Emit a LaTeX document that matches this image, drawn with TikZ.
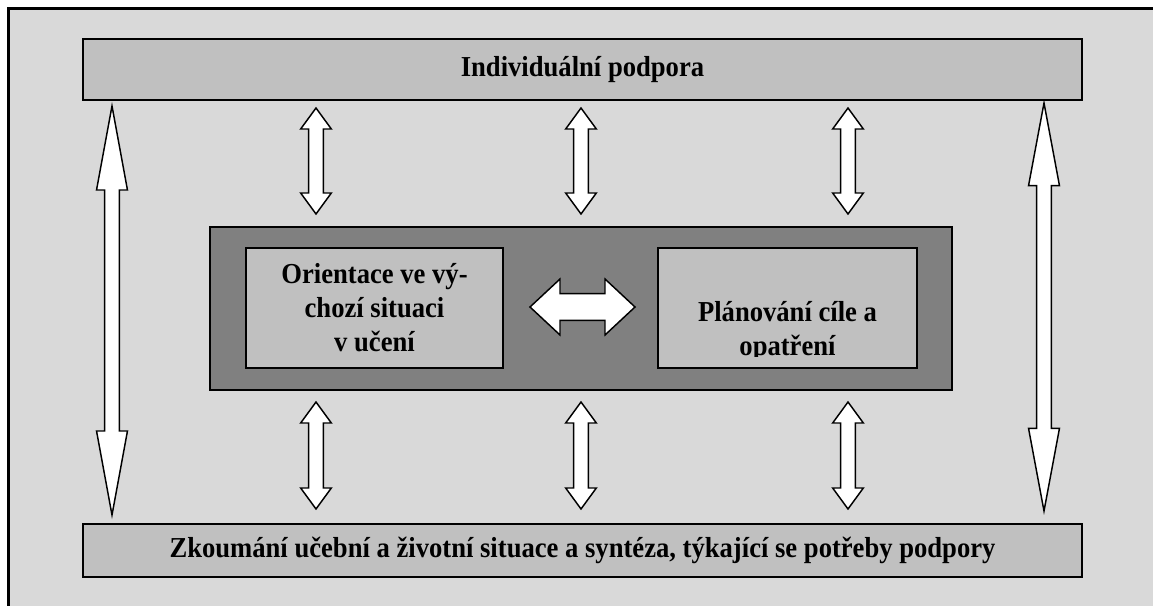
\documentclass[tikz,border=0pt]{standalone}
\usepackage{fontspec}
\setmainfont[FakeStretch=0.92]{Liberation Serif}
\usetikzlibrary{calc,fit}
\definecolor{pagegray}{HTML}{D9D9D9}
\definecolor{bargray}{HTML}{C0C0C0}
\definecolor{coregray}{HTML}{808080}

% vertical double block arrow: #1 upper tip, #2 lower tip,
% #3 head half-width, #4 shaft half-width, #5 head length
\newcommand\vblockarrow[5]{%
  \draw[blockarrow] let \p1=(#1), \p2=(#2) in
    (\x1,\y1) -- (\x1+#3,\y1-#5) -- (\x1+#4,\y1-#5) -- (\x1+#4,\y2+#5)
    -- (\x1+#3,\y2+#5) -- (\x1,\y2) -- (\x1-#3,\y2+#5) -- (\x1-#4,\y2+#5)
    -- (\x1-#4,\y1-#5) -- (\x1-#3,\y1-#5) -- cycle;}
% horizontal double block arrow: #1 left tip, #2 right tip
\newcommand\hblockarrow[5]{%
  \draw[blockarrow] let \p1=(#1), \p2=(#2) in
    (\x1,\y1) -- (\x1+#5,\y1+#3) -- (\x1+#5,\y1+#4) -- (\x2-#5,\y1+#4)
    -- (\x2-#5,\y1+#3) -- (\x2,\y1) -- (\x2-#5,\y1-#3) -- (\x2-#5,\y1-#4)
    -- (\x1+#5,\y1-#4) -- (\x1+#5,\y1-#3) -- cycle;}

\begin{document}
\begin{tikzpicture}[x=0.75pt,y=-0.75pt,
  box/.style={draw=black, line width=1.3pt, fill=bargray, inner sep=0pt},
  corebox/.style={box, fill=coregray},
  txt/.style={font=\fontsize{21.7}{25.5}\selectfont\bfseries, align=center, inner sep=0pt},
  blockarrow/.style={draw=black, line width=1.1pt, fill=white, line join=miter}]

\useasboundingbox (0,0) rectangle (1153,606);
\clip (0,0) rectangle (1153,606);

% page frame
\draw[line width=1.6pt, fill=pagegray] (8.5,8.5) rectangle (1170,620);

% bars and boxes
\node[box, fit={(83,39) (1082,100)}] (top) {};
\node[box, fit={(83,524) (1082,577)}] (bot) {};
\node[corebox, fit={(210,227) (952,390)}] (core) {};
\node[box, fit={(246,248) (503,368)}] (orient) {};
\node[box, fit={(658,248) (917,368)}] (plan) {};

% labels
\node[txt] (toptext) at (top.center) {Individuální podpora};
\node[txt] (bottext) at (bot.center) {Zkoumání učební a životní situace a syntéza, týkající se potřeby podpory};
\node[txt] (orienttext) at (orient.center) {Orientace ve vý-\\chozí situaci\\v učení};
\begin{scope}
  \clip (658,248) rectangle (917,356);
  \node[txt, anchor=base] (plantext) at (787.5,355) {Plánování cíle a\\opatření};
\end{scope}

% arrow end points
\coordinate (bigLa) at (112,106);  \coordinate (bigLb) at (112,515);
\coordinate (bigRa) at (1044,103); \coordinate (bigRb) at (1044,511);
\coordinate (u1a) at (316,108); \coordinate (u1b) at (316,214);
\coordinate (u2a) at (581,108); \coordinate (u2b) at (581,214);
\coordinate (u3a) at (848,108); \coordinate (u3b) at (848,214);
\coordinate (l1a) at (316,402); \coordinate (l1b) at (316,509);
\coordinate (l2a) at (581,402); \coordinate (l2b) at (581,509);
\coordinate (l3a) at (848,402); \coordinate (l3b) at (848,509);
\coordinate (ha) at (530,307); \coordinate (hb) at (635,307);

% long arrows at the sides
\vblockarrow{bigLa}{bigLb}{11.6pt}{5.6pt}{63pt}
\vblockarrow{bigRa}{bigRb}{11.6pt}{5.6pt}{62pt}
% short arrows above and below the core box
\foreach \a/\b in {u1a/u1b,u2a/u2b,u3a/u3b,l1a/l1b,l2a/l2b,l3a/l3b}
  {\vblockarrow{\a}{\b}{11.5pt}{5.5pt}{15.75pt}}
% arrow between the two inner boxes
\hblockarrow{ha}{hb}{21pt}{10pt}{22.5pt}
\end{tikzpicture}
\end{document}
